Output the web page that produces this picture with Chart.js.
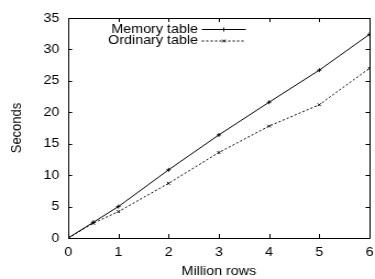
<!DOCTYPE html>
<html>
<head>
<meta charset="utf-8">
<script src="https://cdn.jsdelivr.net/npm/chart.js@4"></script>
<style>
  html, body { margin: 0; padding: 0; background: #fff; overflow: hidden; }
  /* the original plot is stretched sideways a bit, so draw narrow and widen it */
  #wrap { width: 341px; height: 279px; transform: scaleX(1.0997); transform-origin: 0 0; }
</style>
</head>
<body>
<div id="wrap"><canvas id="c" width="341" height="279"></canvas></div>
<script>
// ── data ──
const millionRows    = [0, 0.5, 1, 2, 3, 4, 5, 6];
const memoryTable    = [0, 2.5, 5.0, 10.85, 16.4, 21.6, 26.7, 32.4];
const ordinaryTable  = [0, 2.35, 4.2, 8.7, 13.6, 17.8, 21.2, 27.0];
const xTicks = [0, 1, 2, 3, 4, 5, 6];
const yTicks = [0, 5, 10, 15, 20, 25, 30, 35];

const FONT = { family: '"Liberation Sans", Arial, sans-serif', size: 13 };

// gnuplot-ish frame, inward ticks and key (text left of the sample line)
const gnuplotFrame = {
  id: 'gnuplotFrame',
  afterDatasetsDraw(chart) {
    const { ctx, chartArea: a, scales: { x, y } } = chart;
    ctx.save();
    ctx.strokeStyle = '#000';
    ctx.lineWidth = 1;
    ctx.setLineDash([]);
    ctx.beginPath();
    ctx.rect(a.left + 0.5, a.top + 0.5, a.right - a.left, a.bottom - a.top);
    xTicks.forEach(v => {
      const px = Math.round(x.getPixelForValue(v)) + 0.5;
      ctx.moveTo(px, a.bottom); ctx.lineTo(px, a.bottom - 4);
      ctx.moveTo(px, a.top); ctx.lineTo(px, a.top + 4);
    });
    yTicks.forEach(v => {
      const py = Math.round(y.getPixelForValue(v)) + 0.5;
      ctx.moveTo(a.left, py); ctx.lineTo(a.left + 3.6, py);
      ctx.moveTo(a.right, py); ctx.lineTo(a.right - 3.6, py);
    });
    ctx.stroke();

    // key
    const keyRows = [29, 40.5];
    ctx.font = `${FONT.size}px ${FONT.family}`;
    ctx.fillStyle = '#000';
    ctx.textAlign = 'right';
    ctx.textBaseline = 'middle';
    chart.data.datasets.forEach((ds, i) => {
      const ky = keyRows[i];
      ctx.fillText(ds.label, 180, ky);
      ctx.beginPath();
      ctx.setLineDash(ds.borderDash || []);
      ctx.moveTo(183.5, ky + 0.5); ctx.lineTo(223.5, ky + 0.5);
      ctx.stroke();
      ctx.setLineDash([]);
      Chart.helpers.drawPoint(ctx, {
        pointStyle: ds.pointStyle, radius: ds.pointRadius, borderWidth: 1, rotation: 0
      }, 203.5, ky + 0.5);
    });
    ctx.restore();
  }
};

new Chart(document.getElementById('c'), {
  type: 'line',
  data: {
    datasets: [
      {
        label: 'Memory table',
        data: millionRows.map((v, i) => ({ x: v, y: memoryTable[i] })),
        borderColor: '#000', backgroundColor: '#000', borderWidth: 1,
        pointStyle: 'cross', pointRadius: 2, pointBorderWidth: 1,
        tension: 0
      },
      {
        label: 'Ordinary table',
        data: millionRows.map((v, i) => ({ x: v, y: ordinaryTable[i] })),
        borderColor: '#000', backgroundColor: '#000', borderWidth: 1,
        borderDash: [2, 2],
        pointStyle: 'crossRot', pointRadius: 2, pointBorderWidth: 1,
        tension: 0
      }
    ]
  },
  options: {
    responsive: false, animation: false,
    layout: { padding: { top: 18, right: 1, left: 0, bottom: 0 } },
    plugins: { legend: { display: false }, tooltip: { enabled: false } },
    scales: {
      x: {
        type: 'linear', min: 0, max: 6,
        afterBuildTicks: s => { s.ticks = xTicks.map(v => ({ value: v })); },
        afterFit: s => { s.height = 41; s.paddingLeft = 0; s.paddingRight = 0; },
        grid: { display: false, drawTicks: false },
        border: { display: false },
        ticks: { color: '#000', font: FONT, padding: 7, maxRotation: 0 },
        title: { display: true, text: 'Million rows', color: '#000', font: FONT, padding: { top: 0, bottom: 0 } }
      },
      y: {
        min: 0, max: 35,
        afterBuildTicks: s => { s.ticks = yTicks.map(v => ({ value: v })); },
        afterFit: s => { s.width = 62; s.paddingTop = 0; s.paddingBottom = 0; },
        grid: { display: false, drawTicks: false },
        border: { display: false },
        ticks: { color: '#000', font: FONT, padding: 8 },
        title: { display: true, text: 'Seconds', color: '#000', font: FONT, padding: { top: 8, bottom: 0 } }
      }
    }
  },
  plugins: [gnuplotFrame]
});
</script>
</body>
</html>
